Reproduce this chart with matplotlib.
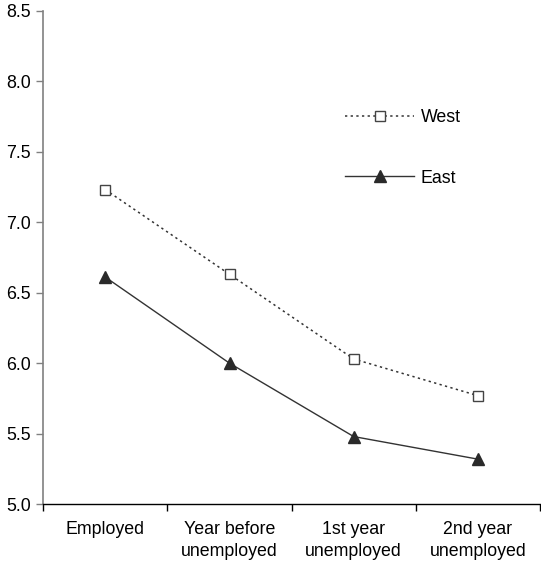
import matplotlib
matplotlib.use("Agg")
import matplotlib.pyplot as plt
import numpy as np

categories = ["Employed", "Year before\nunemployed", "1st year\nunemployed", "2nd year\nunemployed"]
west = [7.23, 6.63, 6.03, 5.77]
east = [6.61, 6.00, 5.48, 5.32]
yticks = [5.0, 5.5, 6.0, 6.5, 7.0, 7.5, 8.0, 8.5]

plt.rcParams['font.family'] = ['Liberation Sans', 'DejaVu Sans']
FS = 12.8

fig = plt.figure(figsize=(5.41, 5.62), dpi=100)
ax = fig.add_axes([0.080, 0.1027, 0.918, 0.8786])

x = np.arange(len(categories))
ax.plot(x, west, linestyle=(0, (1.5, 2.2)), color='#333333', lw=1.1,
        marker='s', markersize=7.5, markerfacecolor='white', markeredgecolor='#444444',
        markeredgewidth=1.0, label='West')
ax.plot(x, east, linestyle='-', color='#333333', lw=1.0,
        marker='^', markersize=8.7, markerfacecolor='#2a2a2a', markeredgecolor='#2a2a2a',
        label='East')

ax.set_xlim(-0.5, len(categories) - 0.5)
ax.set_ylim(5.0, 8.5)
ax.set_yticks(yticks)
ax.set_yticklabels([f"{v:.1f}" for v in yticks], fontsize=FS)

ax.set_xticks(np.arange(len(categories) + 1) - 0.5)
ax.set_xticklabels([])
ax.set_xticks(x, minor=True)
ax.set_xticklabels(categories, minor=True, fontsize=FS, linespacing=1.38)
ax.tick_params(axis='x', which='minor', length=0, pad=12)
ax.tick_params(axis='x', which='major', length=5, width=1, color='#000000', direction='out')
ax.tick_params(axis='y', length=5, width=1, color='#808080', direction='out', pad=4)

for s in ['top', 'right']:
    ax.spines[s].set_visible(False)
ax.spines['left'].set_color('#808080')
ax.spines['left'].set_linewidth(1.2)
ax.spines['bottom'].set_color('#000000')
ax.spines['bottom'].set_linewidth(1.0)

ax.legend(loc='upper left', bbox_to_anchor=(345 / 541, 1 - 109 / 562),
          bbox_transform=fig.transFigure, frameon=False, fontsize=FS,
          handlelength=3.9, handletextpad=0.35, labelspacing=2.45,
          borderpad=0, borderaxespad=0)

fig.savefig("out.png", dpi=100)
